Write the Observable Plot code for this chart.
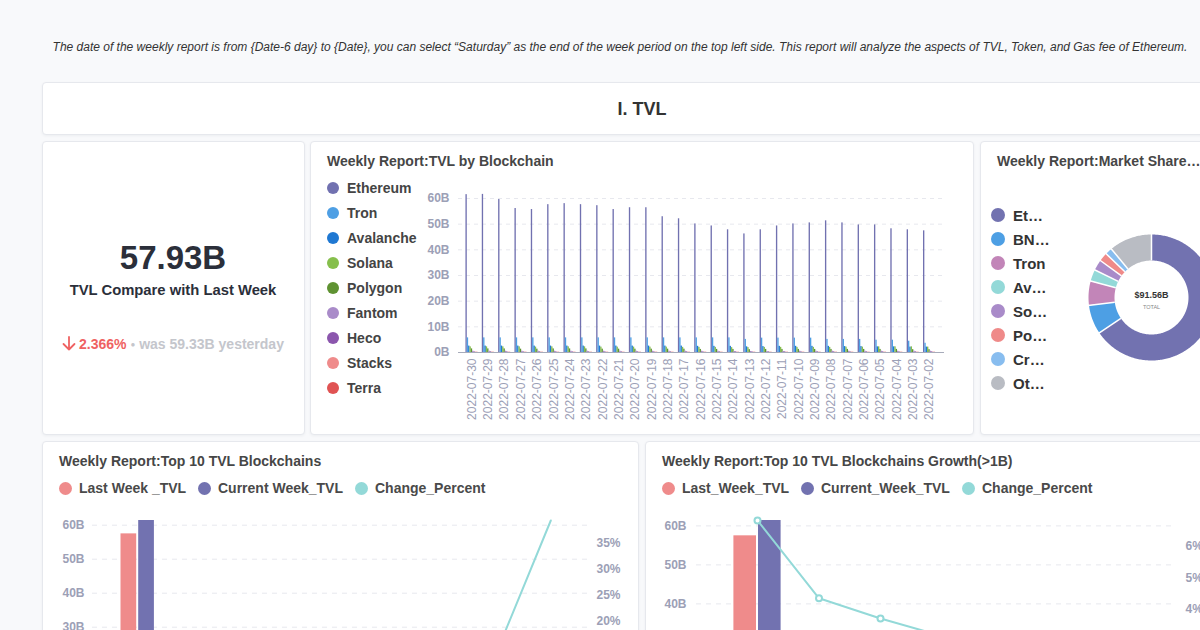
<!DOCTYPE html>
<html>
<head>
<meta charset="utf-8">
<script src="https://cdn.jsdelivr.net/npm/d3@7"></script>
<script src="https://cdn.jsdelivr.net/npm/@observablehq/plot@0.6"></script>
<style>
html, body { margin:0; padding:0; }
body { width:1200px; height:630px; overflow:hidden; position:relative; background:#f8f9fb; font-family:"Liberation Sans", Arial, Helvetica, sans-serif; }
.card { position:absolute; background:#fff; border:1px solid #e6e8ed; border-radius:4px; box-sizing:border-box; box-shadow:0 1px 3px rgba(20,30,60,0.05); }
.t { position:absolute; white-space:nowrap; line-height:1; }
.ld { position:absolute; border-radius:50%; }
.chartbox { position:absolute; }
.chartbox svg { display:block; max-width:none !important; background:transparent !important; }
</style>
</head>
<body>
<script>
// ---------------- data ----------------
const dates = ["2022-07-30","2022-07-29","2022-07-28","2022-07-27","2022-07-26","2022-07-25","2022-07-24","2022-07-23","2022-07-22","2022-07-21","2022-07-20","2022-07-19","2022-07-18","2022-07-17","2022-07-16","2022-07-15","2022-07-14","2022-07-13","2022-07-12","2022-07-11","2022-07-10","2022-07-09","2022-07-08","2022-07-07","2022-07-06","2022-07-05","2022-07-04","2022-07-03","2022-07-02"];
const chains = ["Ethereum","Tron","Avalanche","Solana","Polygon","Fantom","Heco","Stacks","Terra"];
const chainColors = ["#7171b0","#4e9fe4","#1f78d2","#86bf4c","#5f9232","#a98bc9","#8b56ad","#ef8b8b","#e05353"];
const tvlEthereum = [61.5,61.6,59.6,56.1,55.7,57.6,58.0,57.6,57.2,55.7,56.4,56.4,52.9,52.1,50.1,49.3,47.8,46.2,47.8,49.3,50.1,50.5,51.3,50.5,49.7,49.7,48.2,47.8,47.4];
const tvlTron     = [5.7,5.7,5.7,5.7,5.7,5.7,5.7,5.7,5.7,5.7,5.7,5.7,5.7,5.7,5.7,5.7,5.7,5.1,5.6,5.6,5.6,5.6,5.1,5.1,5.1,4.8,4.8,4.4,3.6];
const tvlAvalanche= [2.5,2.5,2.5,2.5,2.5,2.5,2.5,2.5,2.5,2.5,2.5,2.5,2.5,2.5,2.4,2.4,2.4,2.2,2.3,2.4,2.4,2.4,2.4,2.3,2.3,2.2,2.2,2.1,2.1];
const tvlSolana   = [2.2,2.2,2.2,2.2,2.1,2.2,2.2,2.2,2.1,2.1,2.1,2.1,2.1,2.0,2.0,2.0,1.9,1.9,2.0,2.0,2.0,2.0,2.0,2.1,2.1,2.2,2.2,2.2,2.1];
const tvlPolygon  = [1.4,1.4,1.4,1.3,1.3,1.4,1.4,1.4,1.3,1.3,1.3,1.3,1.3,1.3,1.2,1.2,1.2,1.1,1.2,1.2,1.2,1.2,1.2,1.2,1.2,1.2,1.2,1.1,1.1];
const tvlFantom   = [0.5,0.5,0.5,0.5,0.5,0.5,0.5,0.5,0.5,0.5,0.5,0.5,0.5,0.5,0.5,0.5,0.4,0.4,0.4,0.4,0.5,0.5,0.5,0.5,0.5,0.5,0.5,0.5,0.5];
const tvlHeco     = [0.25,0.25,0.25,0.25,0.25,0.25,0.25,0.25,0.25,0.25,0.25,0.25,0.25,0.25,0.25,0.25,0.25,0.25,0.25,0.25,0.25,0.25,0.25,0.25,0.25,0.25,0.25,0.25,0.25];
const tvlStacks   = [0.15,0.15,0.15,0.15,0.15,0.15,0.15,0.15,0.15,0.15,0.15,0.15,0.15,0.15,0.15,0.15,0.15,0.15,0.15,0.15,0.15,0.15,0.15,0.15,0.15,0.15,0.15,0.15,0.15];
const tvlTerra    = [0.1,0.1,0.1,0.1,0.1,0.1,0.1,0.1,0.1,0.1,0.1,0.1,0.1,0.1,0.1,0.1,0.1,0.1,0.1,0.1,0.1,0.1,0.1,0.1,0.1,0.1,0.1,0.1,0.1];
const tvlSeries = [tvlEthereum,tvlTron,tvlAvalanche,tvlSolana,tvlPolygon,tvlFantom,tvlHeco,tvlStacks,tvlTerra];
const tvlTicks = [0,10,20,30,40,50,60];

const shareNames = ["Ethereum","BNB","Tron","Avalanche","Solana","Polygon","Cronos","Others"];
const shareLabels = ["Et…","BN…","Tron","Av…","So…","Po…","Cr…","Ot…"];
const shareColors = ["#7272b0","#4d9fe4","#c285b8","#93d9d8","#a98bc9","#ef8a89","#88bdef","#b9bcc3"];
const shareValues = [59.97,6.87,5.68,2.75,2.52,2.06,1.65,10.06];

const kpiCurrent = "57.93B";
const kpiChange = "2.366%";
const kpiPrevious = "59.33B";

const top10Chains  = ["Ethereum","BSC","Tron","Avalanche","Solana","Polygon","Cronos","Arbitrum","Fantom","Optimism"];
const top10Last    = [57.45,6.73,5.73,2.64,2.43,1.98,1.63,1.39,0.75,0.46];
const top10Current = [61.38,6.87,5.68,2.75,2.52,2.06,1.65,1.42,0.88,0.64];
const top10Change  = [6.84,2.1,-0.8,4.0,3.6,4.3,1.2,2.5,17.9,39.4];
const top10BTicks = [10,20,30,40,50,60];
const top10PctTicks = [0,5,10,15,20,25,30,35];

const growthChains  = ["Ethereum","Polygon","Avalanche","Solana","BSC","Cronos","Tron"];
const growthLast    = [57.45,1.97,2.65,2.44,6.73,1.63,5.73];
const growthCurrent = [61.38,2.06,2.75,2.52,6.87,1.65,5.68];
const growthChange  = [6.84,4.34,3.69,3.13,2.1,1.2,-0.85];
const growthBTicks = [10,20,30,40,50,60];
const growthPctTicks = [0,1,2,3,4,5,6];

// ---------------- helpers ----------------
const FONT = '"Liberation Sans", Arial, Helvetica, sans-serif';
const AXIS = "#9ca0b6";
const GRID = "#e7e8ee";
function el(cls, css, html) {
  const d = document.createElement("div");
  d.className = cls; Object.assign(d.style, css);
  if (html != null) d.innerHTML = html;
  document.body.appendChild(d); return d;
}
function text(s, left, baseline, size, o = {}) {
  const css = {left: left + "px", top: (baseline - 0.8465 * size) + "px", fontSize: size + "px",
    fontWeight: o.weight || "bold", color: o.color || "#464646", fontStyle: o.italic ? "italic" : "normal"};
  if (o.width) { css.width = o.width + "px"; css.textAlign = o.align || "center"; }
  return el("t", css, s);
}
function dot(cx, cy, r, color) {
  el("ld", {left: (cx - r) + "px", top: (cy - r) + "px", width: 2 * r + "px", height: 2 * r + "px", background: color});
}
function card(l, t, w, h) { el("card", {left: l + "px", top: t + "px", width: w + "px", height: h + "px"}); }
function box(l, t, svg) { const b = el("chartbox", {left: l + "px", top: t + "px"}); b.appendChild(svg); }

// ---------------- layout ----------------
text("The date of the weekly report is from {Date-6 day} to {Date}, you can select “Saturday” as the end of the week period on the top left side. This report will analyze the aspects of TVL, Token, and Gas fee of Ethereum.", 0, 51, 12, {italic: true, weight: "normal", color: "#333", width: 1240});

card(42, 82, 1200, 53);
text("I. TVL", 42, 115, 18, {weight: "bold", color: "#333", width: 1200});

card(42, 141, 263, 294);
card(310, 141, 664, 294);
card(980, 141, 263, 294);
card(42, 441, 597, 300);
card(645, 441, 597, 300);

// KPI
text(kpiCurrent, 42, 269, 33, {color: "#2b2f3a", width: 262});
text("TVL Compare with Last Week", 42, 296, 14.8, {color: "#2b2f3a", width: 262});
const arrowSvg = `<svg width="14" height="15" viewBox="0 0 14 15" style="vertical-align:-2px;margin-right:3px"><path d="M7 1 V13.5 M1.5 8 L7 13.5 L12.5 8" fill="none" stroke="#ef6262" stroke-width="1.8" stroke-linecap="round" stroke-linejoin="round"/></svg>`;
text(`${arrowSvg}<span style="color:#ef6262">${kpiChange}</span><span style="color:#c4c6cc"> <span style="font-size:8px;vertical-align:2px">●</span> was ${kpiPrevious} yesterday</span>`, 42, 348, 14, {width: 262});

// Chart 1 title + legend
text("Weekly Report:TVL by Blockchain", 327, 166, 14);
chains.forEach((c, i) => { dot(333, 188 + 25 * i, 6, chainColors[i]); text(c, 347, 193 + 25 * i, 14, {color: "#444"}); });

// Donut title + legend
text("Weekly Report:Market Share…", 997, 166, 14);
shareLabels.forEach((c, i) => { dot(998, 215 + 24 * i, 7, shareColors[i]); text(c, 1013, 220.5 + 24 * i, 15, {color: "#333"}); });

// Bottom titles + legends
text("Weekly Report:Top 10 TVL Blockchains", 59, 466, 14);
dot(65, 488, 6.5, "#ef8b8b"); text("Last Week _TVL", 79, 493, 14, {color: "#4a4a4a"});
dot(204, 488, 6.5, "#7272b0"); text("Current Week_TVL", 218, 493, 14, {color: "#4a4a4a"});
dot(361, 488, 6.5, "#93d9d8"); text("Change_Percent", 375, 493, 14, {color: "#4a4a4a"});

text("Weekly Report:Top 10 TVL Blockchains Growth(&gt;1B)", 662, 466, 14);
dot(668, 488, 6.5, "#ef8b8b"); text("Last_Week_TVL", 682, 493, 14, {color: "#4a4a4a"});
dot(807, 488, 6.5, "#7272b0"); text("Current_Week_TVL", 821, 493, 14, {color: "#4a4a4a"});
dot(968, 488, 6.5, "#93d9d8"); text("Change_Percent", 982, 493, 14, {color: "#4a4a4a"});

// ---------------- Chart 1: TVL by blockchain ----------------
{
  const rows = dates.flatMap((d, i) => chains.map((c, j) => ({date: d, chain: c, value: tvlSeries[j][i]})));
  const range = [153.3, 627.2];
  const step = (range[1] - range[0]) / dates.length;
  const bw = 1.34, off = step / 2 - 4.5 * bw;
  const yMax = d3.max(tvlEthereum);
  const svg = Plot.plot({
    width: 664, height: 250,
    marginLeft: 148, marginRight: 30, marginTop: 172 - yMax * (154 / 60), marginBottom: 78,
    style: {fontFamily: FONT, background: "transparent"},
    x: {type: "band", domain: dates, range, padding: 0, round: false},
    y: {domain: [0, yMax]},
    marks: [
      Plot.ruleY(tvlTicks.filter(t => t > 0), {stroke: GRID, strokeDasharray: "4,4"}),
      ...chains.map((c, j) => Plot.barY(rows.filter(r => r.chain === c), {
        x: "date", y: "value", fill: chainColors[j],
        insetLeft: off + j * bw, insetRight: step - off - (j + 1) * bw
      })),
      Plot.ruleY([0], {stroke: "#a7abba"}),
      Plot.axisY(tvlTicks, {tickFormat: d => d + "B", tickSize: 0, tickPadding: 9, fontSize: 12, fontWeight: "bold", color: AXIS, label: null}),
      Plot.axisX({tickRotate: -90, tickSize: 0, tickPadding: 6, fontSize: 12, color: AXIS, label: null})
    ]
  });
  box(310, 180, svg);
}

// ---------------- Donut ----------------
{
  const total = d3.sum(shareValues);
  const arcRows = [], seps = [];
  let acc = 0;
  shareValues.forEach((v, i) => {
    const a0 = acc / total * 2 * Math.PI; acc += v; const a1 = acc / total * 2 * Math.PI;
    const n = Math.max(2, Math.ceil((a1 - a0) / (Math.PI / 180)));
    for (let k = 0; k <= n; k++) {
      const a = a0 + (a1 - a0) * k / n;
      arcRows.push({name: shareNames[i], a});
    }
    seps.push({a: a0});
  });
  const R = 50, R0 = 37, R1 = 63;
  const svg = Plot.plot({
    width: 142, height: 142, margin: 0,
    style: {fontFamily: FONT, background: "transparent"},
    x: {domain: [-71, 71], axis: null},
    y: {domain: [-71, 71], axis: null},
    color: {domain: shareNames, range: shareColors},
    marks: [
      Plot.line(arcRows, {x: d => R * Math.sin(d.a), y: d => R * Math.cos(d.a), z: "name", stroke: "name", strokeWidth: R1 - R0, strokeLinecap: "butt", strokeLinejoin: "round"}),
      Plot.link(seps, {x1: d => R0 * Math.sin(d.a), y1: d => R0 * Math.cos(d.a), x2: d => (R1 + 1) * Math.sin(d.a), y2: d => (R1 + 1) * Math.cos(d.a), stroke: "white", strokeWidth: 1.5}),
      Plot.text([`$${total.toFixed(2)}B`], {x: 0, y: 2, text: d => d, fontSize: 9, fontWeight: "bold", fill: "#333"}),
      Plot.text(["TOTAL"], {x: 0, y: -10, text: d => d, fontSize: 5.5, fill: "#888"})
    ]
  });
  box(1151 - 71, 297 - 71, svg);
}

// ---------------- Dual-axis bar+line charts ----------------
function dualChart({cats, last, cur, change, bTicks, pTicks, left, top, width, height, mL, mR, mT, pxPerB, range, barHalf, gapHalf, markers, lpad, rpad}) {
  const bMax = d3.max(cur);
  const [pMin, pMax] = d3.extent(change);
  const toB = p => (p - pMin) / (pMax - pMin) * bMax;
  const fromB = b => b / bMax * (pMax - pMin) + pMin;
  const rows = cats.map((c, i) => ({cat: c, last: last[i], cur: cur[i], change: change[i]}));
  const half = (range[1] - range[0]) / cats.length / 2;
  const plotH = bMax * pxPerB;
  const svg = Plot.plot({
    width, height, marginLeft: mL, marginRight: mR, marginTop: mT, marginBottom: height - mT - plotH,
    style: {fontFamily: FONT, background: "transparent"},
    x: {type: "band", domain: cats, range, padding: 0, round: false, axis: null},
    y: {domain: [0, bMax]},
    marks: [
      Plot.ruleY(bTicks, {stroke: GRID, strokeDasharray: "5,5"}),
      Plot.barY(rows, {x: "cat", y: "last", fill: "#ef8b8b", insetLeft: half - barHalf - gapHalf, insetRight: half + gapHalf}),
      Plot.barY(rows, {x: "cat", y: "cur", fill: "#7272b0", insetLeft: half + gapHalf, insetRight: half - barHalf - gapHalf}),
      Plot.line(rows, {x: "cat", y: d => toB(d.change), stroke: "#93d9d8", strokeWidth: 2}),
      ...(markers ? [Plot.dot(rows, {x: "cat", y: d => toB(d.change), r: 3, fill: "white", stroke: "#93d9d8", strokeWidth: 2})] : []),
      Plot.axisY(bTicks, {tickFormat: d => d + "B", tickSize: 0, tickPadding: lpad, fontSize: 12, fontWeight: "bold", color: AXIS, label: null}),
      Plot.axisY(pTicks.map(toB), {anchor: "right", tickFormat: d => Math.round(fromB(d)) + "%", tickSize: 0, tickPadding: rpad, textAnchor: "start", fontSize: 12, fontWeight: "bold", color: AXIS, label: null})
    ]
  });
  box(left, top, svg);
}

dualChart({cats: top10Chains, last: top10Last, cur: top10Current, change: top10Change, bTicks: top10BTicks, pTicks: top10PctTicks,
  left: 42, top: 505, width: 597, height: 260, mL: 50, mR: 52, mT: 15, pxPerB: 3.4, range: [72.25, 531.25], barHalf: 15.7, gapHalf: 1, markers: false, lpad: 8, rpad: 9});

dualChart({cats: growthChains, last: growthLast, cur: growthCurrent, change: growthChange, bTicks: growthBTicks, pTicks: growthPctTicks,
  left: 645, top: 505, width: 597, height: 300, mL: 51, mR: 71, mT: 15, pxPerB: 3.9, range: [81.25, 511.75], barHalf: 22.6, gapHalf: 1, markers: true, lpad: 10, rpad: 14});
</script>
</body>
</html>
